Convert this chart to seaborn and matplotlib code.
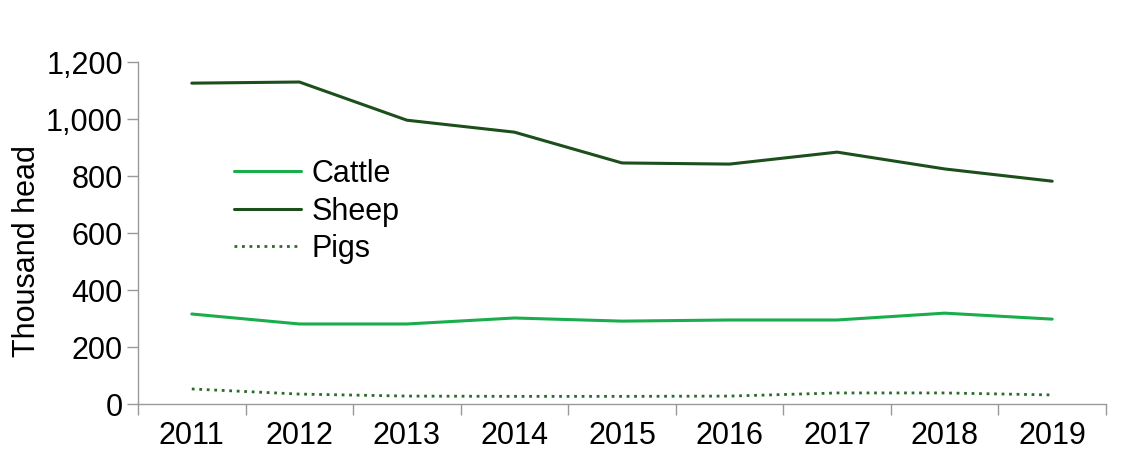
import pandas as pd
import numpy as np
import matplotlib.pyplot as plt
import seaborn as sns

years = ["2011", "2012", "2013", "2014", "2015", "2016", "2017", "2018", "2019"]
cattle = [316, 281, 281, 302, 291, 295, 295, 319, 298]
sheep = [1126, 1130, 996, 954, 846, 842, 884, 825, 782]
pigs = [53, 35, 28, 27, 27, 28, 39, 39, 32]

df = pd.DataFrame({"pos": range(len(years)), "Cattle": cattle, "Sheep": sheep, "Pigs": pigs})

sns.set_style("white", {"xtick.bottom": True, "ytick.left": True,
                        "text.color": "black", "xtick.color": "black", "ytick.color": "black",
                        "axes.labelcolor": "black"})
plt.rcParams["font.family"] = ["Liberation Sans", "DejaVu Sans"]

fig = plt.figure(figsize=(11.37, 4.54), dpi=100)
ax = fig.add_axes([0.1214, 0.110, 0.8513, 0.7533])

sns.lineplot(x="pos", y="Cattle", data=df, ax=ax, color="#19AD4B", linewidth=2.2, label="Cattle")
sns.lineplot(x="pos", y="Sheep", data=df, ax=ax, color="#1C4F1C", linewidth=2.2, label="Sheep")
sns.lineplot(x="pos", y="Pigs", data=df, ax=ax, color="#2A6B2A", linewidth=2.0,
             linestyle=(0, (1, 1.7)), label="Pigs")

ax.set_xlim(-0.5, len(years) - 0.5)
ax.set_ylim(0, 1200)
ax.set_yticks(np.arange(0, 1201, 200))
ax.set_yticklabels([f"{v:,}" for v in range(0, 1201, 200)])
ax.set_xticks(range(len(years)))
ax.set_xticklabels(years)
ax.set_xticks(np.arange(-0.5, len(years), 1), minor=True)
ax.tick_params(axis="x", which="major", length=0, pad=12, labelsize=22, labelcolor="black")
ax.tick_params(axis="x", which="minor", bottom=True, length=8, color="#999999", width=1, direction="out")
ax.tick_params(axis="y", left=True, length=8, color="#999999", width=1, direction="out",
               labelsize=22, pad=3, labelcolor="black")
ax.set_xlabel("")
ax.set_ylabel("Thousand head", fontsize=22, color="black")
ax.yaxis.set_label_coords(-0.099, 0.447)

for side in ["top", "right"]:
    ax.spines[side].set_visible(False)
for side in ["left", "bottom"]:
    ax.spines[side].set_color("#999999")
    ax.spines[side].set_linewidth(1)

leg = ax.legend(loc="center left", bbox_to_anchor=(0.083, 0.563), frameon=False, fontsize=22,
                borderpad=0, handlelength=2.2, handletextpad=0.35, labelspacing=0.24)
for t in leg.get_texts():
    t.set_color("black")

plt.savefig("out.png", dpi=100)
